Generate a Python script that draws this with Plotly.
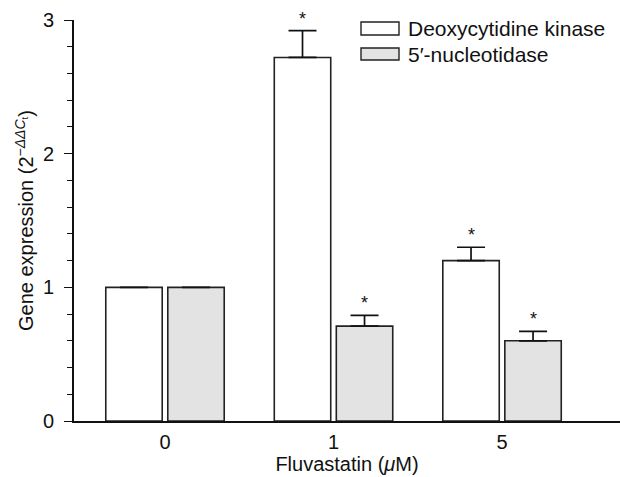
import plotly.graph_objects as go

categories = ["0", "1", "5"]
dck_values = [1.0, 2.72, 1.20]
dck_err = [0.0, 0.20, 0.10]
nt5_values = [1.0, 0.71, 0.60]
nt5_err = [0.0, 0.08, 0.07]
dck_star = [False, True, True]
nt5_star = [False, True, True]
series_names = ["Deoxycytidine kinase", "5\u2032-nucleotidase"]

W, H = 620, 477
L, R, T, B = 74, 0, 20, 56
FONT = "Liberation Sans, Arial, Helvetica, sans-serif"
GRAY = "#e3e3e3"
EDGE = "#222222"

bargap = 0.264
bargroupgap = 0.09
slot = (1 - bargap) / 2
xs = list(range(len(categories)))

fig = go.Figure()
fig.add_trace(go.Bar(
    x=xs, y=dck_values, name=series_names[0],
    marker=dict(color="white", line=dict(color=EDGE, width=1.6)),
    error_y=dict(type="data", array=dck_err, arrayminus=[0]*3, symmetric=False,
                 color="#111", thickness=1.7, width=14),
    showlegend=False,
))
fig.add_trace(go.Bar(
    x=xs, y=nt5_values, name=series_names[1],
    marker=dict(color=GRAY, line=dict(color=EDGE, width=1.6)),
    error_y=dict(type="data", array=nt5_err, arrayminus=[0]*3, symmetric=False,
                 color="#111", thickness=1.7, width=14),
    showlegend=False,
))

annotations = []
star_font = dict(size=18, color="#111", family=FONT)
for i in xs:
    if dck_star[i]:
        annotations.append(dict(x=i - slot / 2, y=dck_values[i] + dck_err[i], text="*",
                                showarrow=False, yshift=12, font=star_font))
    if nt5_star[i]:
        annotations.append(dict(x=i + slot / 2, y=nt5_values[i] + nt5_err[i], text="*",
                                showarrow=False, yshift=12, font=star_font))

pw = W - L - R
ph = H - T - B
def px(x):
    return (x - L) / pw
def py(y):
    return (H - B - y) / ph

shapes = []
legend_rows = [(22, 35, "white"), (48, 60, GRAY)]
for (y0, y1, col), name in zip(legend_rows, series_names):
    shapes.append(dict(type="rect", xref="paper", yref="paper",
                       x0=px(361), x1=px(399), y0=py(y1), y1=py(y0),
                       fillcolor=col, line=dict(color=EDGE, width=1.4)))
    annotations.append(dict(xref="paper", yref="paper", x=px(406), y=py((y0 + y1) / 2),
                            xanchor="left", yanchor="middle", text=name, showarrow=False,
                            font=dict(size=21, color="#111", family=FONT)))

fig.update_layout(
    width=W, height=H,
    margin=dict(l=L, r=R, t=T, b=B),
    paper_bgcolor="white", plot_bgcolor="white",
    barmode="group", bargap=bargap, bargroupgap=bargroupgap,
    font=dict(family=FONT, size=20, color="#111"),
    annotations=annotations, shapes=shapes,
    xaxis=dict(
        range=[-0.54, 2.70], tickmode="array", tickvals=xs, ticktext=categories,
        showline=True, linecolor="#111", linewidth=1.6, ticks="", showgrid=False,
        zeroline=False, tickfont=dict(size=20), ticklabelstandoff=2,
        title=dict(text="Fluvastatin (<i>\u03bc</i>M)", font=dict(size=20), standoff=2),
    ),
    yaxis=dict(
        range=[0, 3], tickvals=[0, 1, 2, 3], ticks="outside", ticklen=8, tickwidth=1.4,
        tickcolor="#111", showline=True, linecolor="#111", linewidth=1.6,
        showgrid=False, zeroline=False, tickfont=dict(size=20), ticklabelstandoff=6,
        minor=dict(dtick=0.2, ticks="outside", ticklen=5, tickwidth=1.2, tickcolor="#111", showgrid=False),
        title=dict(text="Gene expression (2<sup>\u2212<i>\u0394\u0394C</i><sub>t</sub></sup>)",
                   font=dict(size=20), standoff=4),
    ),
)

fig.write_html("out.html")
